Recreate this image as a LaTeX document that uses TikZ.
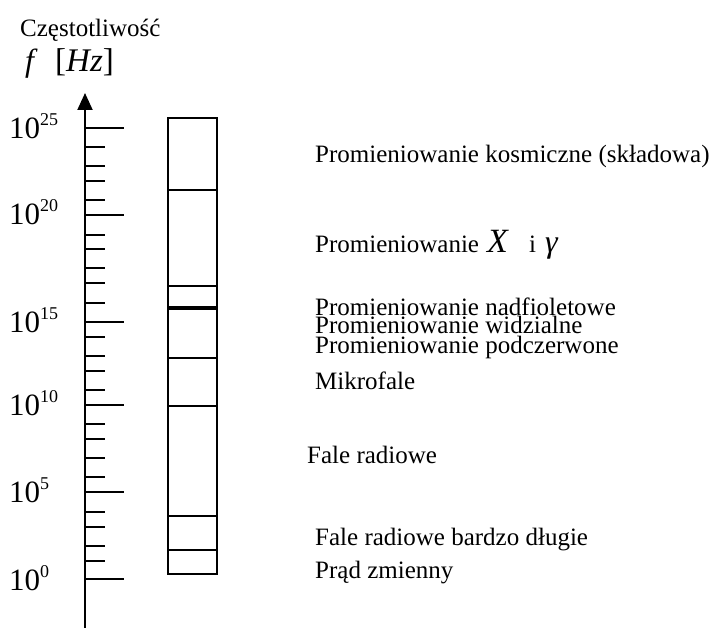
\documentclass[tikz,border=0pt]{standalone}
\usepackage{fontspec}
\setmainfont{Liberation Serif}
\usetikzlibrary{arrows.meta}
\newcommand\tenpow[1]{10\raisebox{13pt}{\fontsize{18}{20}\selectfont #1}}
\begin{document}
\begin{tikzpicture}[x=1pt,y=-1pt,
  lbl/.style={anchor=base west,inner sep=0pt,font=\fontsize{25}{30}\selectfont},
  axlbl/.style={anchor=base west,inner sep=0pt,font=\fontsize{31}{36}\selectfont},
  big/.style={anchor=base west,inner sep=0pt,font=\fontsize{32}{36}\selectfont\itshape},
  ln/.style={line width=2pt},
  thickln/.style={line width=4pt}]
\useasboundingbox (0,0) rectangle (717,628);
% header
\node[lbl] (title) at (20,37) {Częstotliwość};
\node[big] (fsym) at (25,72) {f};
\node[anchor=base west,inner sep=0pt,font=\fontsize{33}{36}\selectfont] (unit) at (55,72) {[\textit{Hz}]};
% axis
\coordinate (axbot) at (85,628);
\coordinate (axtop) at (85,93);
\draw[ln,-{Triangle[length=17pt,width=15pt]}] (axbot) -- (axtop);
\foreach \y in {128,215,322,405,492,579} \draw[ln] (84,\y) -- (124,\y);
\foreach \y in {147,166,181,200,235,249,268,283,303,337,356,371,390,424,439,458,477,512,527,546,561}
  \draw[ln] (84,\y) -- (105,\y);
% axis labels
\node[axlbl] (e25) at (9,139) {\tenpow{25}};
\node[axlbl] (e20) at (9,225) {\tenpow{20}};
\node[axlbl] (e15) at (9,332) {\tenpow{15}};
\node[axlbl] (e10) at (9,415) {\tenpow{10}};
\node[axlbl] (e5) at (9,502) {\tenpow{5}};
\node[axlbl] (e0) at (9,590) {\tenpow{0}};
% bar
\draw[ln] (168,118) rectangle (217,574);
\foreach \y in {190,286,358,406,516,550} \draw[ln] (168,\y) -- (217,\y);
\draw[thickln] (168,308) -- (217,308);
% band labels
\node[lbl] (cosmic) at (315,163) {Promieniowanie kosmiczne (składowa)};
\node[lbl] (xg) at (315,253) {Promieniowanie};
\node[anchor=base west,inner sep=0pt,font=\fontsize{34}{38}\selectfont\itshape] (xsym) at (487,253) {X};
\node[lbl] (iconj) at (529,253) {i};
\node[anchor=base west,inner sep=0pt,font=\fontsize{32}{36}\selectfont\itshape] (gsym) at (545,253) {γ};
\node[lbl] (uv) at (315,315) {Promieniowanie nadfioletowe};
\node[lbl] (vis) at (315,333) {Promieniowanie widzialne};
\node[lbl] (ir) at (315,353) {Promieniowanie podczerwone};
\node[lbl] (micro) at (315,389) {Mikrofale};
\node[lbl] (radio) at (307,463) {Fale radiowe};
\node[lbl] (vlf) at (315,545) {Fale radiowe bardzo długie};
\node[lbl] (ac) at (315,578) {Prąd zmienny};
\end{tikzpicture}
\end{document}
